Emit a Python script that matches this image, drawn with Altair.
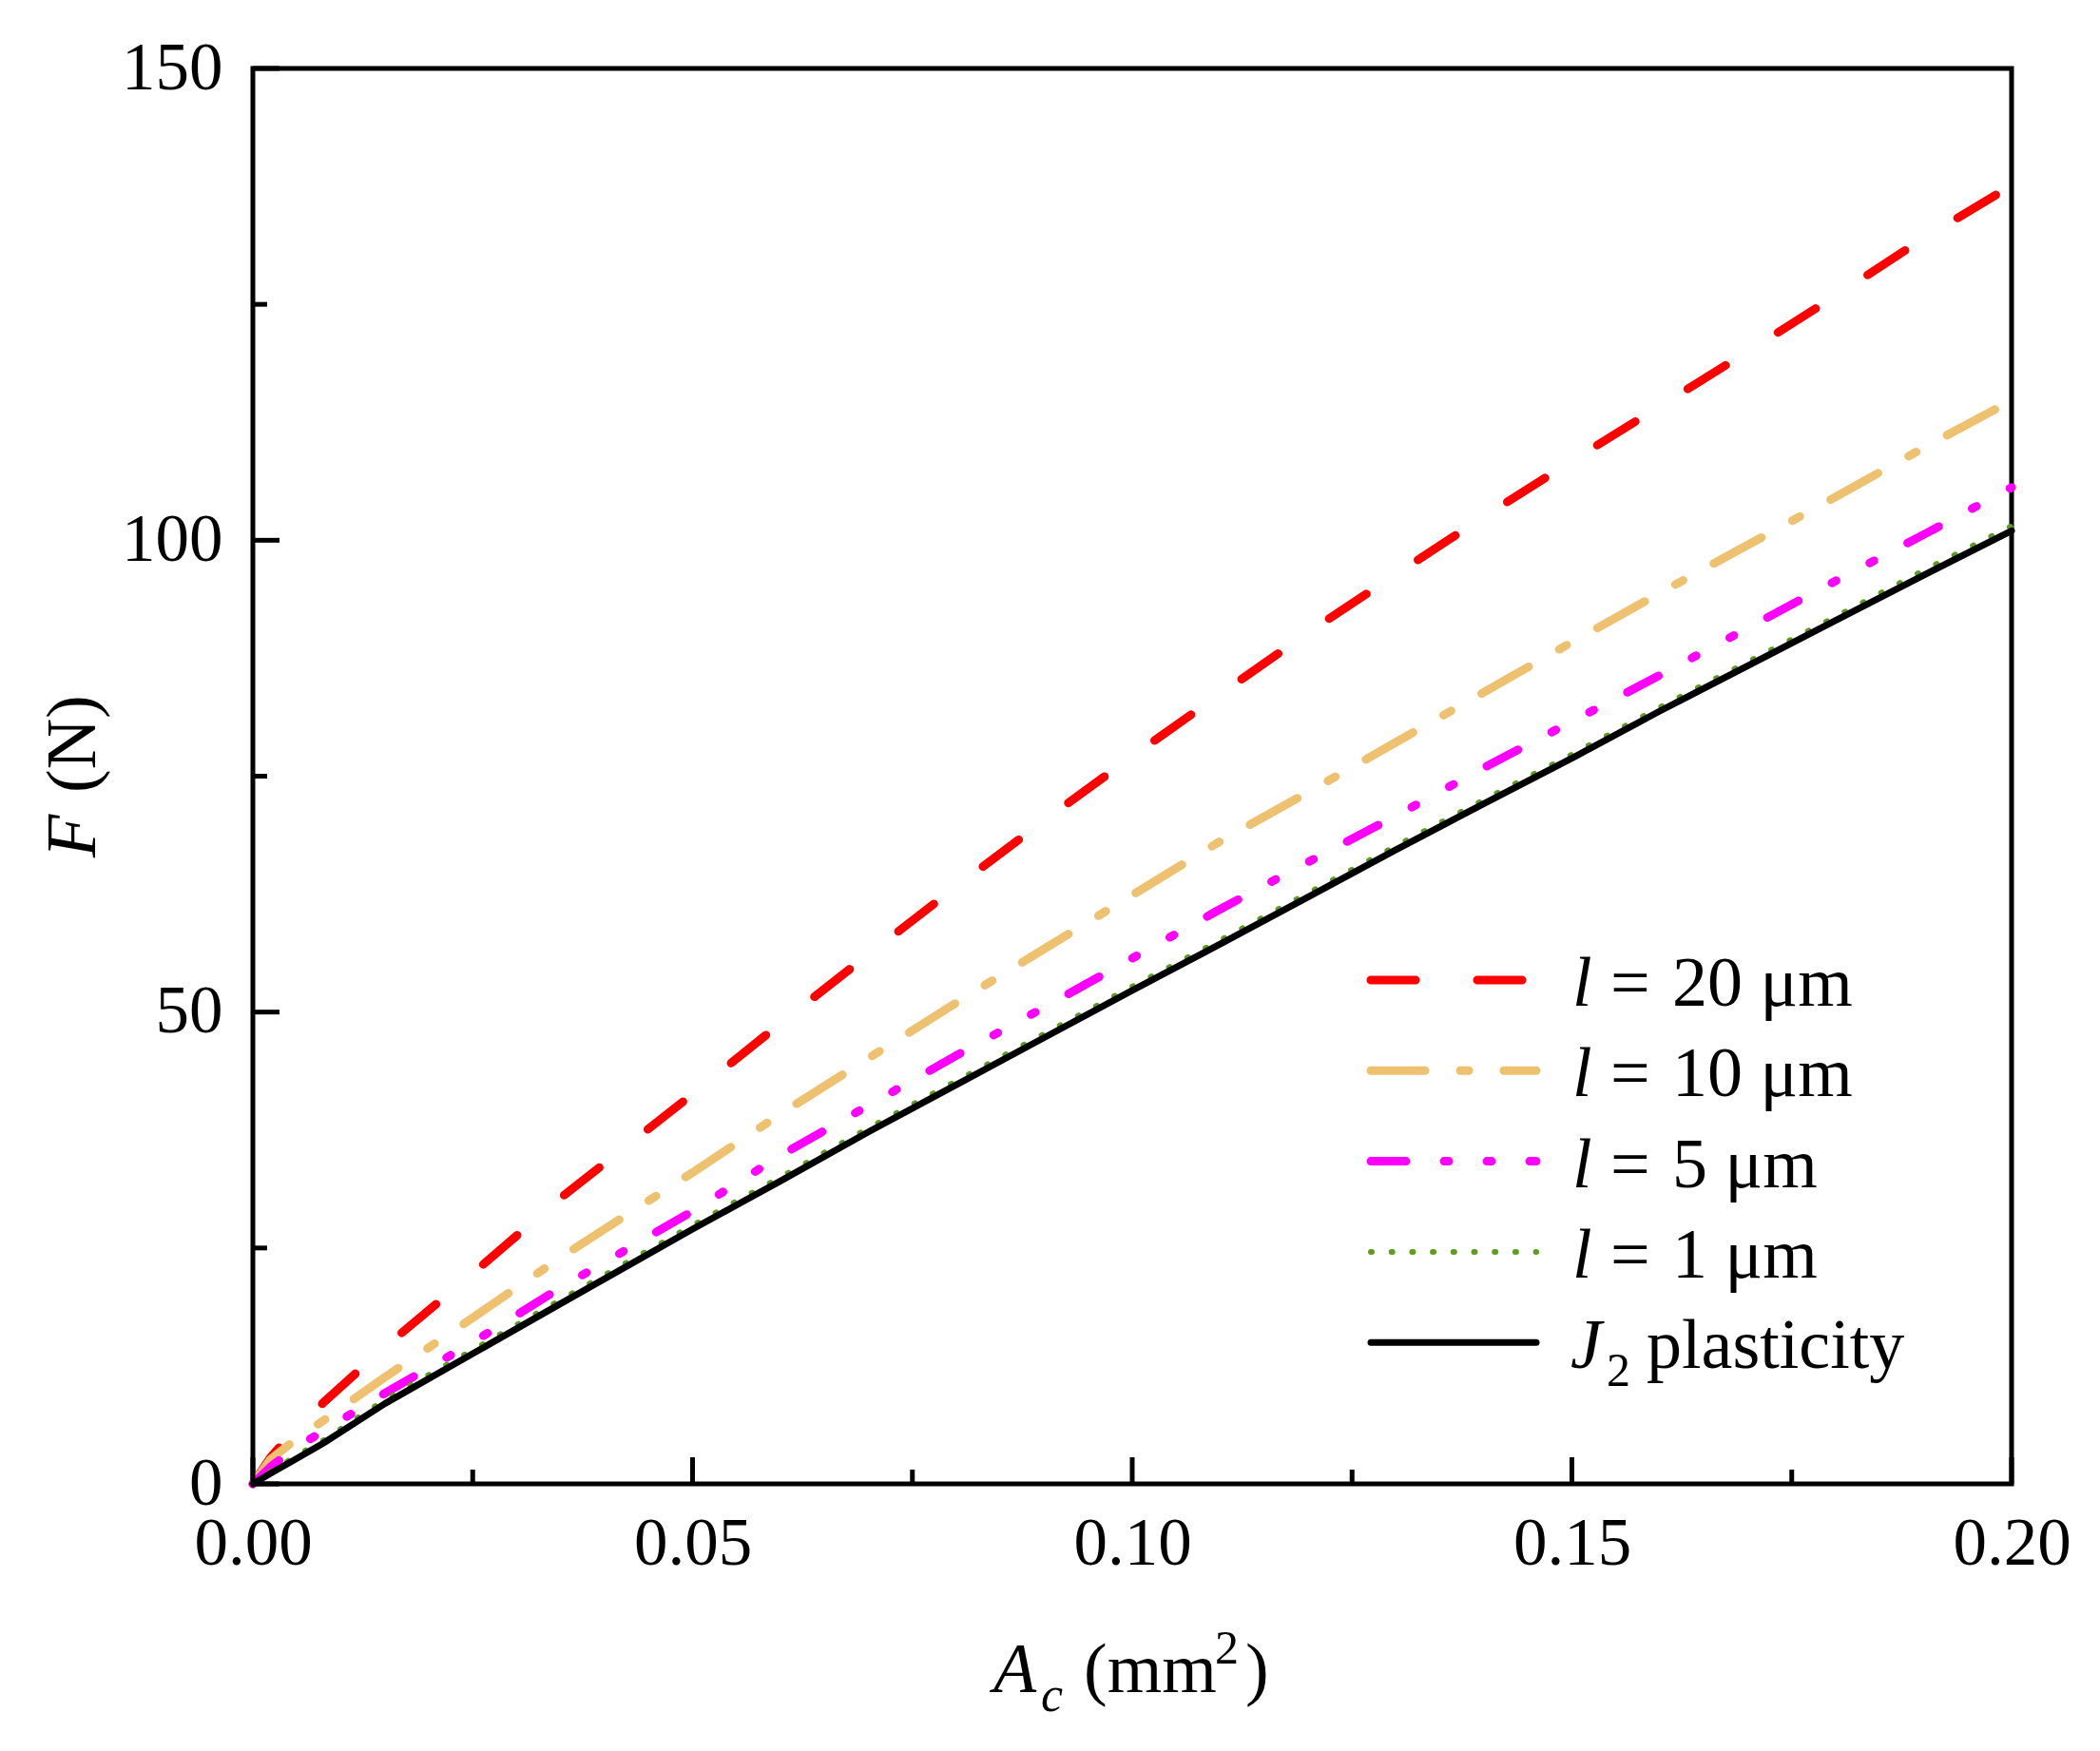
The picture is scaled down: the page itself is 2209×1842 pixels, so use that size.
import altair as alt
import pandas as pd

# contact area A_c (mm^2) at which the curves were read
A_C = [0, 0.002, 0.005, 0.008, 0.015, 0.025, 0.035, 0.05, 0.06, 0.07, 0.08,
       0.09, 0.1, 0.11, 0.12, 0.13, 0.14, 0.15, 0.16, 0.17, 0.18, 0.19, 0.2]

# force F (N), one list per model
F_L20 = [0, 2.8, 6.0, 8.6, 14.5, 22.3, 30.3, 41.3, 48.8, 56.1, 63.3, 70.3,
         77.1, 83.7, 90.2, 96.4, 102.5, 108.4, 114.2, 120.0, 125.9, 132.0, 137.6]
F_L10 = [0, 2.6, 4.8, 6.7, 11.3, 17.6, 24.0, 33.0, 39.2, 45.1, 51.0, 56.7,
         62.4, 68.1, 73.3, 78.6, 83.9, 89.2, 94.4, 99.5, 104.6, 109.8, 114.8]
F_L5 = [0, 1.8, 3.9, 5.6, 9.6, 15.0, 20.8, 28.9, 34.8, 40.1, 45.4, 50.5,
        55.7, 60.9, 65.9, 70.8, 75.9, 80.8, 85.7, 90.7, 95.7, 100.6, 105.6]
F_L1 = [0, 1.3, 3.0, 4.6, 8.9, 14.2, 19.5, 27.4, 32.5, 37.7, 42.7, 47.7,
        52.7, 57.6, 62.6, 67.6, 72.5, 77.3, 82.3, 87.1, 91.9, 96.8, 101.5]
F_J2 = [0, 1.1, 2.7, 4.3, 8.5, 13.8, 19.1, 27.0, 32.1, 37.3, 42.3, 47.3,
        52.3, 57.2, 62.2, 67.2, 72.1, 76.9, 81.9, 86.7, 91.5, 96.3, 101.0]

LEGEND_VALUES = ["20 μm", "10 μm", "5 μm", "1 μm"]

X_MAJOR = [0, 0.05, 0.1, 0.15, 0.2]
X_MINOR = [0.025, 0.075, 0.125, 0.175]
Y_MAJOR = [0, 50, 100, 150]
Y_MINOR = [25, 75, 125]

FONT = "Liberation Serif"
W, H = 1850, 1489

# line styles, in drawing order (black last, on top)
STYLES = [
    {"color": "#FF0000", "strokeWidth": 9, "strokeDash": [47, 65]},
    {"color": "#EEC170", "strokeWidth": 9, "strokeDash": [57, 37, 9, 37]},
    {"color": "#FF00FF", "strokeWidth": 9, "strokeDash": [37, 40, 5, 40, 5, 40]},
    {"color": "#5E9E1E", "strokeWidth": 6, "strokeDash": [1, 20.7]},
    {"color": "#000000", "strokeWidth": 7},
]

x_scale = alt.Scale(domain=[0, 0.2], nice=False, zero=False)
y_scale = alt.Scale(domain=[0, 150], nice=False, zero=False)

# the same axis objects go on every layer so that Vega-Lite merges them
x_axis = alt.Axis(values=X_MAJOR, format=".2f", title=None, domain=False,
                  ticks=False, tickSize=0, grid=False, labelFont=FONT,
                  labelFontSize=71, labelColor="black", labelPadding=28,
                  labelFlush=False, labelOverlap=False, labelBound=False)
y_axis = alt.Axis(values=Y_MAJOR, format="d", title=None, domain=False,
                  ticks=False, tickSize=0, grid=False, labelFont=FONT,
                  labelFontSize=71, labelColor="black", labelPadding=32,
                  labelFlush=False, labelOverlap=False, labelBound=False)


def curve(values, style):
    df = pd.DataFrame({"A": A_C, "F": values})
    return alt.Chart(df).mark_line(strokeCap="round", strokeJoin="round", **style).encode(
        x=alt.X("A:Q", scale=x_scale, axis=x_axis),
        y=alt.Y("F:Q", scale=y_scale, axis=y_axis),
    )


def xticks(vals, length):
    return alt.Chart(pd.DataFrame({"A": vals})).mark_rule(color="black", strokeWidth=5).encode(
        x=alt.X("A:Q", scale=x_scale, axis=x_axis),
        y=alt.value(H), y2=alt.value(H - length),
    )


def yticks(vals, length):
    return alt.Chart(pd.DataFrame({"F": vals})).mark_rule(color="black", strokeWidth=5).encode(
        y=alt.Y("F:Q", scale=y_scale, axis=y_axis),
        x=alt.value(0), x2=alt.value(length),
    )


def text(s, x, y, size, italic=False, angle=0):
    return alt.Chart(pd.DataFrame({"t": [s]})).mark_text(
        font=FONT, fontSize=size, fontStyle="italic" if italic else "normal",
        angle=angle, align="left", baseline="alphabetic", color="black",
    ).encode(text="t:N", x=alt.value(x), y=alt.value(y))


def legend_line(y, style):
    return alt.Chart(pd.DataFrame({"k": [0]})).mark_rule(strokeCap="round", **style).encode(
        x=alt.value(1176), x2=alt.value(1350), y=alt.value(y)
    )


series = [F_L20, F_L10, F_L5, F_L1, F_J2]
layers = [curve(v, s) for v, s in zip(series, STYLES)]
layers += [xticks(X_MAJOR, 28), xticks(X_MINOR, 15), yticks(Y_MAJOR, 28), yticks(Y_MINOR, 15)]

# legend, drawn by hand so that the italic symbols stay italic
for i, style in enumerate(STYLES):
    ly = 959 + i * 95.3
    layers.append(legend_line(ly, style))
    if i < len(LEGEND_VALUES):
        layers.append(text("l", 1388, ly + 27, 74, italic=True))
        layers.append(text("=", 1428, ly + 27, 74))
        layers.append(text(LEGEND_VALUES[i], 1493, ly + 27, 74))
    else:
        layers.append(text("J", 1386, ly + 27, 74, italic=True))
        layers.append(text("2", 1424, ly + 46, 50))
        layers.append(text("plasticity", 1466, ly + 27, 74))

# axis titles
layers += [
    text("A", 779, 1708, 74, italic=True),
    text("c", 829, 1728, 52, italic=True),
    text("(mm", 874, 1708, 74),
    text("2", 1012, 1678, 50),
    text(")", 1044, 1708, 74),
    text("F", -166, 830, 74, italic=True, angle=270),
    text("(N)", -166, 762, 74, angle=270),
]

chart = alt.layer(*layers).properties(
    width=W,
    height=H,
    padding={"left": 258, "top": 64, "right": 85, "bottom": 270},
    autosize=alt.AutoSizeParams(type="none"),
).configure_view(stroke="black", strokeWidth=5)

chart.save("out.html", embed_options={"renderer": "svg", "actions": False})
